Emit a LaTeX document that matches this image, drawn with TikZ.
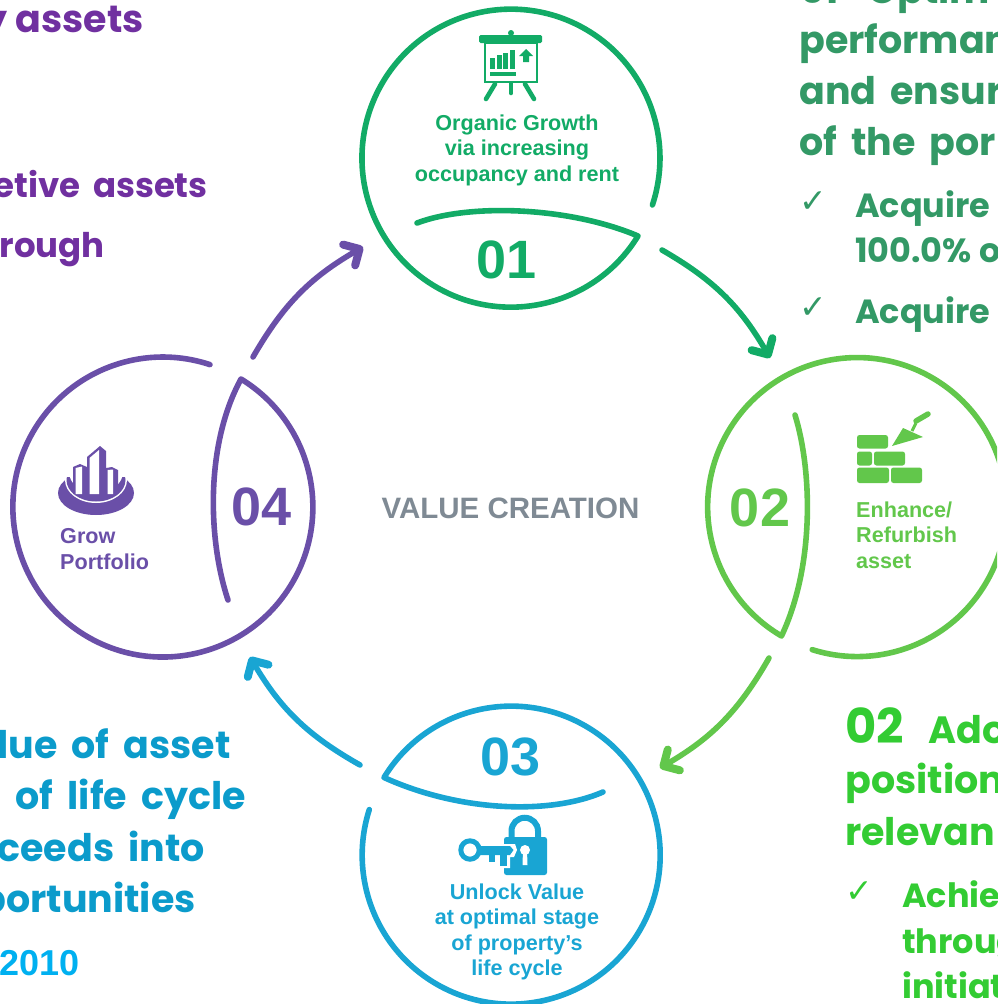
\documentclass[tikz,border=0pt]{standalone}
\usepackage{fontspec}
\setmainfont{Liberation Sans}
\newfontfamily\sidefont{Poppins}
\newfontfamily\tickfont{DejaVu Sans}
\usetikzlibrary{arrows.meta,shapes.geometric}
\definecolor{organic}{HTML}{12AB66}
\definecolor{refurb}{HTML}{62C74B}
\definecolor{unlock}{HTML}{19A5D3}
\definecolor{portfolio}{HTML}{6A4FA8}
\definecolor{sidegreen}{HTML}{339966}
\definecolor{sidelime}{HTML}{33CC33}
\definecolor{sideblue}{HTML}{0B9BCB}
\definecolor{sideyear}{HTML}{00B0F0}
\definecolor{sidepurple}{HTML}{7030A0}
\definecolor{hubgrey}{HTML}{7F8A94}
\def\widewords{\spaceskip 0.37em\relax}
\tikzset{
	ring/.style={line width=5.6pt, line cap=round, line join=round},
	flow/.style={line width=5.6pt, line cap=round, -{Straight Barb[length=12pt,width=24pt,round,line width=8pt]}},
	stage/.style={font=\bfseries\fontsize{54}{54}\selectfont, inner sep=0pt},
	caption/.style={font=\bfseries\fontsize{21.6}{25.5}\selectfont, inner sep=0pt, align=center},
	sidetext/.style={font=\sidefont\bfseries\fontsize{38}{44}\selectfont\widewords, inner sep=0pt, anchor=base west},
	sideleft/.style={sidetext, anchor=base east},
	sidesmall/.style={font=\sidefont\bfseries\fontsize{34}{40}\selectfont\widewords},
	bullet/.style={font=\sidefont\bfseries\fontsize{33.5}{40}\selectfont, inner sep=0pt, anchor=base west},
	tickmark/.style={font=\tickfont\fontsize{33}{33}\selectfont, inner sep=0pt},
	brick/.style={fill=refurb, rounded corners=2.5pt}
}

\begin{document}
\begin{tikzpicture}[x=1pt, y=-1pt]
	\useasboundingbox (0, 0) rectangle (997, 1004);
	\clip (0, 0) rectangle (997, 1004);
	
	\draw[ring, organic] (417, 223) .. controls (470, 203) and (570, 207) .. (638, 236) arc (31.5:378.3:149);
	\draw[ring, refurb] (795, 415) .. controls (812, 470) and (815, 565) .. (781.5, 636) arc (120.4:467.5:149.5);
	\draw[ring, unlock] (603, 792) .. controls (550, 815) and (460, 812) .. (384, 777.5) arc (211.4:557.8:149);
	\draw[ring, portfolio] (228, 600) .. controls (208, 540) and (205, 445) .. (241, 379) arc (301.4:648.3:150);
	
	\coordinate (from01) at (662, 250);
	\coordinate (to02) at (770, 358);
	\coordinate (from02) at (769, 658);
	\coordinate (to03) at (660, 768);
	\coordinate (from03) at (360, 765);
	\coordinate (to04) at (250, 657);
	\coordinate (from04) at (253, 357);
	\coordinate (to01) at (363, 247);
	\draw[flow, organic] (from01) to[bend left=15] (to02);
	\draw[flow, refurb] (from02) to[bend left=15] (to03);
	\draw[flow, unlock] (from03) to[bend left=15] (to04);
	\draw[flow, portfolio] (from04) to[bend left=15] (to01);
	
	\node[stage, organic] (num01) at (507, 260) {01};
	\node[stage, refurb] (num02) at (760, 508) {02};
	\node[stage, unlock] (num03) at (511, 757) {03};
	\node[stage, portfolio] (num04) at (262, 507) {04};
	
	\node[caption, organic] (cap01) at (517, 150) {Organic Growth\\via increasing\\occupancy and rent};
	\node[caption, refurb, align=left, anchor=west] (cap02) at (856, 535) {Enhance/\\Refurbish\\asset};
	\node[caption, unlock] (cap03) at (517, 932) {Unlock Value\\at optimal stage\\of property’s\\life cycle};
	\node[caption, portfolio, align=left, anchor=west] (cap04) at (60, 549) {Grow\\Portfolio};
	\node[font=\bfseries\fontsize{29.5}{29.5}\selectfont, hubgrey, inner sep=0pt] (hub) at (510.5, 508) {VALUE CREATION};
	
	% chart board
	\fill[organic, rounded corners=1.5pt] (479, 35) rectangle (542, 43);
	\fill[organic] (511, 33) circle (3);
	\draw[organic, line width=2.2pt] (485, 43) rectangle (537, 82);
	\foreach \xbar/\ybar in {490/58, 496.5/55, 503/53, 509.5/50}
		\fill[organic] (\xbar, \ybar) rectangle (\xbar+5, 69);
	\fill[organic] (490, 72) rectangle (516, 76);
	\fill[organic] (526, 49) -- (533, 56) -- (529, 56) -- (529, 62) -- (523, 62) -- (523, 56) -- (519, 56) -- cycle;
	\draw[organic, line width=4.6pt, line cap=round] (495, 84) -- (486, 99);
	\draw[organic, line width=4.6pt, line cap=round] (511, 84) -- (511, 93);
	\draw[organic, line width=4.6pt, line cap=round] (525, 84) -- (534, 99);
	
	% bricks and trowel
	\fill[brick] (857, 435) rectangle (888, 448.5);
	\fill[brick] (857, 451.5) rectangle (872, 465.5);
	\fill[brick] (874, 451.5) rectangle (905, 465.5);
	\fill[brick] (857, 467.5) rectangle (889, 483);
	\fill[brick] (891, 467.5) rectangle (922, 483);
	\fill[refurb] (892, 446) -- (903, 428) -- (923, 437) -- cycle;
	\draw[refurb, line width=3pt] (912, 431) -- (916, 423);
	\draw[refurb, line width=5.5pt, line cap=round] (916, 421) -- (928, 414);
	
	% key and padlock
	\draw[unlock, line width=6pt] (511.5, 840) -- (511.5, 831) arc (180:360:13.25) -- (538, 840);
	\fill[unlock, rounded corners=2.5pt] (504, 837) rectangle (547, 875);
	\fill[white] (525, 850) circle (5);
	\fill[white] (523, 850) -- (527, 850) -- (527.5, 865) -- (522.5, 865) -- cycle;
	\fill[white] (497, 844) -- (515, 844) -- (517, 850) -- (514, 857) -- (510, 857) -- (510, 868) -- (497, 868) -- cycle;
	\draw[unlock, line width=5pt] (470, 850) circle (9.2);
	\fill[unlock] (479, 846) -- (510, 846) -- (513.5, 850) -- (510, 855) -- (479, 855) -- cycle;
	\fill[unlock] (489, 855) rectangle (495, 862);
	\fill[unlock] (500, 855) rectangle (507, 866);
	
	% towers on a base
	\fill[portfolio] (96, 493) ellipse (38 and 22);
	\fill[white] (96, 480) ellipse (31 and 23);
	\fill[portfolio] (96, 480) ellipse (29.5 and 21.5);
	\fill[white] (96, 472) ellipse (27 and 21);
	\fill[white] (50, 440) rectangle (140, 477);
	\fill[portfolio] (73, 467) -- (80, 464) -- (87, 467) -- (87, 494) -- (73, 494) -- cycle;
	\fill[white] (75.5, 468) -- (82, 466.5) -- (82, 494) -- (75.5, 494) -- cycle;
	\fill[portfolio] (87, 457) -- (100, 446) -- (106, 451) -- (106, 494) -- (87, 494) -- cycle;
	\fill[white] (89.5, 458) -- (99, 450) -- (99, 494) -- (89.5, 494) -- cycle;
	\fill[portfolio] (106, 468) -- (112, 467) -- (118, 470) -- (118, 494) -- (106, 494) -- cycle;
	\fill[white] (107.5, 470) -- (113, 469.5) -- (113, 494) -- (107.5, 494) -- cycle;
	
	% side texts
	\node[sidetext, sidegreen] (opt1) at (800, 3) {01~~Optim};
	\node[sidetext, sidegreen] (opt2) at (799, 53) {performan};
	\node[sidetext, sidegreen] (opt3) at (799, 104) {and ensur};
	\node[sidetext, sidegreen] (opt4) at (799, 155) {of the por};
	\node[tickmark, sidegreen] (tick1) at (813, 202) {✓};
	\node[bullet, sidegreen] (acq1) at (855, 217) {Acquire};
	\node[bullet, sidegreen] (acq2) at (855, 262) {100.0\% o};
	\node[tickmark, sidegreen] (tick2) at (813, 308) {✓};
	\node[bullet, sidegreen] (acq3) at (855, 323) {Acquire};
	
	\node[sidetext, sidelime, font=\sidefont\bfseries\fontsize{48}{48}\selectfont] (adj0) at (845, 743) {02};
	\node[sidetext, sidelime] (adj1) at (928, 743) {Ado};
	\node[sidetext, sidelime] (adj2) at (845, 793) {position};
	\node[sidetext, sidelime] (adj3) at (845, 845) {relevan};
	\node[tickmark, sidelime] (tick3) at (859, 892) {✓};
	\node[bullet, sidelime] (ach1) at (902, 907) {Achie};
	\node[bullet, sidelime] (ach2) at (902, 953) {throug};
	\node[bullet, sidelime] (ach3) at (902, 998) {initiat};
	
	\node[sideleft, sidepurple, font=\sidefont\bfseries\fontsize{38}{44}\selectfont] (pur1) at (144, 32) {y assets};
	\node[sideleft, sidepurple, sidesmall] (pur2) at (208, 197) {etive assets};
	\node[sideleft, sidepurple, sidesmall] (pur3) at (105, 257) {rough};
	
	\node[sideleft, sideblue] (val1) at (231, 758) {lue of asset};
	\node[sideleft, sideblue] (val2) at (246, 809) {of life cycle};
	\node[sideleft, sideblue] (val3) at (205, 861) {ceeds into};
	\node[sideleft, sideblue] (val4) at (196, 912) {portunities};
	\node[inner sep=0pt, anchor=base east, sideyear, font=\bfseries\fontsize{36}{36}\selectfont] (year) at (80, 975) {2010};
\end{tikzpicture}
\end{document}
